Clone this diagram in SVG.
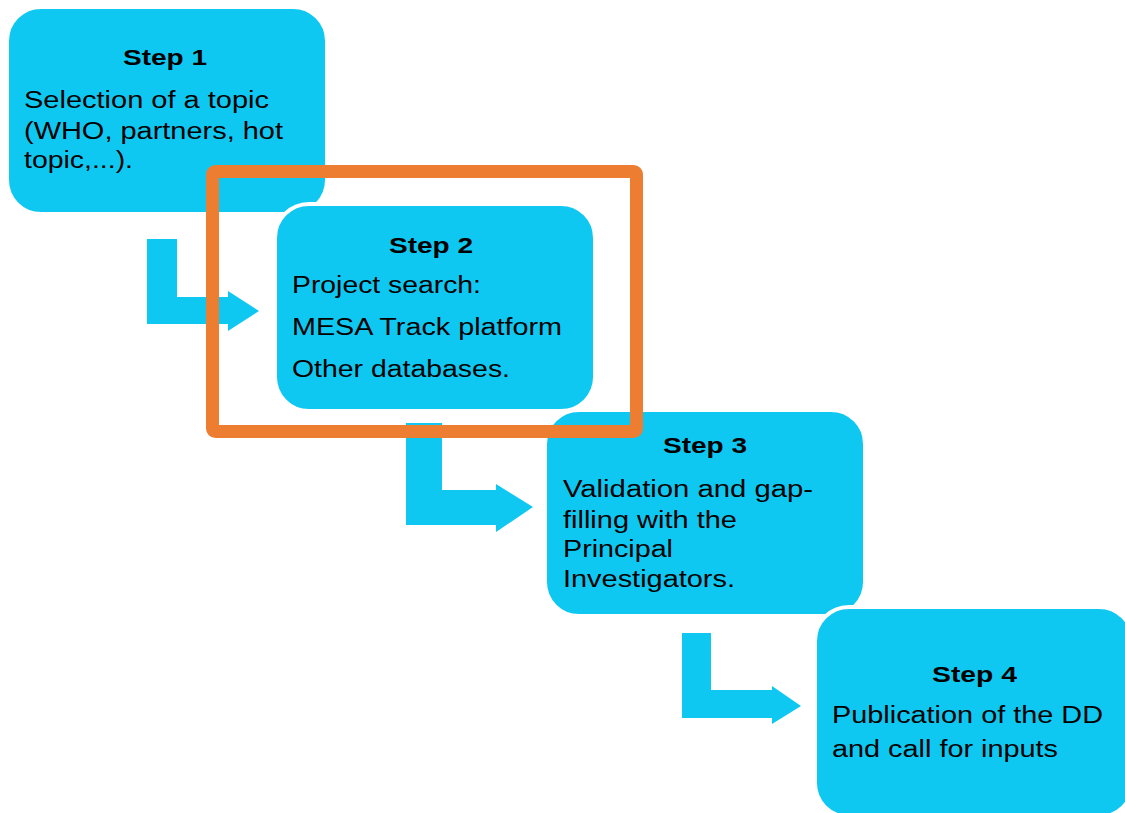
<svg xmlns="http://www.w3.org/2000/svg" width="1125" height="813" viewBox="0 0 1125 813">
<style>
.box{fill:#0FC8F2;stroke:#ffffff;stroke-width:4}
.arrow{fill:#0FC8F2}
.h{font-family:"Liberation Sans",Arial,sans-serif;font-weight:bold;font-size:22px;fill:#000}
.t{font-family:"Liberation Sans",Arial,sans-serif;font-size:23px;fill:#000}
.hl{fill:none;stroke:#ED7D31;stroke-width:13}
</style>
<rect width="1125" height="813" fill="#ffffff"/>
<g id="step1">
<rect class="box" x="7" y="7" width="320" height="207" rx="34"/>
<text class="h" x="123" y="65" textLength="84" lengthAdjust="spacingAndGlyphs">Step 1</text>
<text class="t" x="24" y="108" textLength="245" lengthAdjust="spacingAndGlyphs">Selection of a topic</text>
<text class="t" x="24" y="139" textLength="259" lengthAdjust="spacingAndGlyphs">(WHO, partners, hot</text>
<text class="t" x="24" y="168" textLength="109" lengthAdjust="spacingAndGlyphs">topic,...).</text>
</g>
<g id="step2">
<rect class="box" x="275" y="204" width="320" height="207" rx="34"/>
<text class="h" x="389" y="253" textLength="84" lengthAdjust="spacingAndGlyphs">Step 2</text>
<text class="t" x="292" y="293" textLength="189" lengthAdjust="spacingAndGlyphs">Project search:</text>
<text class="t" x="292" y="335" textLength="270" lengthAdjust="spacingAndGlyphs">MESA Track platform</text>
<text class="t" x="292" y="377" textLength="218" lengthAdjust="spacingAndGlyphs">Other databases.</text>
</g>
<g id="step3">
<rect class="box" x="545" y="410" width="320" height="206" rx="34"/>
<text class="h" x="663" y="453" textLength="84" lengthAdjust="spacingAndGlyphs">Step 3</text>
<text class="t" x="563" y="497" textLength="250" lengthAdjust="spacingAndGlyphs">Validation and gap-</text>
<text class="t" x="563" y="528" textLength="174" lengthAdjust="spacingAndGlyphs">filling with the</text>
<text class="t" x="563" y="557" textLength="110" lengthAdjust="spacingAndGlyphs">Principal</text>
<text class="t" x="563" y="587" textLength="172" lengthAdjust="spacingAndGlyphs">Investigators.</text>
</g>
<g id="step4">
<rect class="box" x="815" y="607" width="318" height="210" rx="34"/>
<text class="h" x="932" y="682" textLength="85" lengthAdjust="spacingAndGlyphs">Step 4</text>
<text class="t" x="832" y="723" textLength="271" lengthAdjust="spacingAndGlyphs">Publication of the DD</text>
<text class="t" x="832" y="757" textLength="226" lengthAdjust="spacingAndGlyphs">and call for inputs</text>
</g>
<g id="connectors">
<path class="arrow" d="M147,239 H177 V297 H228 V291 L259,311 L228,331 V324 H147 Z"/>
<path class="arrow" d="M406,423 H442 V490 H496 V484 L533,507 L496,532 V525 H406 Z"/>
<path class="arrow" d="M682,633 H711 V690 H772 V686 L801,706 L772,724 V718 H682 Z"/>
</g>
<g id="highlight">
<rect class="hl" x="212.5" y="171.5" width="424" height="260" rx="3"/>
</g>
</svg>
